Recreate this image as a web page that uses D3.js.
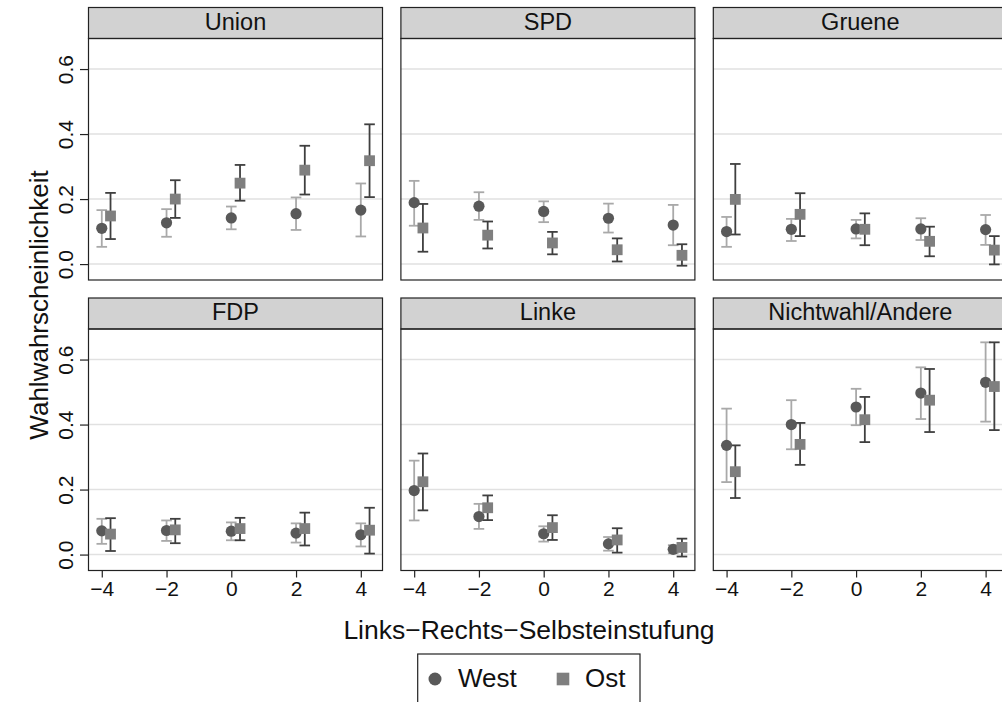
<!DOCTYPE html>
<html>
<head>
<meta charset="utf-8">
<script src="https://cdn.jsdelivr.net/npm/d3@7"></script>
<style>
  body { margin: 0; background: #fff; }
  svg { display: block; font-family: "Liberation Sans", Arial, sans-serif; }
</style>
</head>
<body>
<svg id="vis"></svg>
<script>
// facet labels and x values (left-right self placement)
var parties = ["Union", "SPD", "Gruene", "FDP", "Linke", "Nichtwahl/Andere"];
var lrScale = [-4, -2, 0, 2, 4];
var yTicks = [0, 0.2, 0.4, 0.6];
var groups = ["West", "Ost"];

// one row per party, one value per lrScale point
var westMean = [
  [0.110, 0.127, 0.142, 0.155, 0.166],
  [0.189, 0.178, 0.162, 0.141, 0.120],
  [0.100, 0.107, 0.108, 0.108, 0.106],
  [0.073, 0.074, 0.072, 0.066, 0.061],
  [0.197, 0.117, 0.064, 0.033, 0.016],
  [0.336, 0.400, 0.454, 0.497, 0.530]
];
var westLo = [
  [0.053, 0.084, 0.107, 0.105, 0.085],
  [0.118, 0.136, 0.129, 0.097, 0.058],
  [0.053, 0.071, 0.079, 0.074, 0.059],
  [0.033, 0.042, 0.044, 0.037, 0.025],
  [0.105, 0.079, 0.040, 0.012, 0.004],
  [0.223, 0.324, 0.398, 0.417, 0.409]
];
var westHi = [
  [0.166, 0.169, 0.177, 0.205, 0.248],
  [0.256, 0.221, 0.193, 0.186, 0.182],
  [0.145, 0.139, 0.136, 0.141, 0.151],
  [0.110, 0.105, 0.099, 0.096, 0.096],
  [0.289, 0.156, 0.087, 0.054, 0.029],
  [0.449, 0.475, 0.510, 0.576, 0.653]
];
var ostMean = [
  [0.148, 0.200, 0.249, 0.289, 0.318],
  [0.111, 0.089, 0.065, 0.044, 0.027],
  [0.199, 0.153, 0.107, 0.070, 0.043],
  [0.063, 0.076, 0.080, 0.080, 0.075],
  [0.224, 0.144, 0.083, 0.045, 0.022],
  [0.255, 0.339, 0.415, 0.475, 0.517]
];
var ostLo = [
  [0.077, 0.142, 0.195, 0.214, 0.206],
  [0.038, 0.048, 0.030, 0.008, -0.005],
  [0.091, 0.086, 0.058, 0.024, -0.001],
  [0.011, 0.035, 0.044, 0.028, 0.003],
  [0.136, 0.106, 0.045, 0.006, -0.006],
  [0.174, 0.276, 0.346, 0.377, 0.383]
];
var ostHi = [
  [0.219, 0.258, 0.305, 0.364, 0.430],
  [0.185, 0.131, 0.099, 0.079, 0.061],
  [0.308, 0.218, 0.156, 0.115, 0.086],
  [0.112, 0.110, 0.113, 0.129, 0.144],
  [0.311, 0.182, 0.121, 0.081, 0.049],
  [0.336, 0.405, 0.485, 0.571, 0.653]
];

var W = 1002, H = 702;
var panelW = 294, stripH = 31, bodyH = 241.5;
var left0 = 88.5, colStep = 312.4, top0 = 7.5, rowStep = 290.5;
var dodge = 0.27;

var svg = d3.select("#vis").attr("width", W).attr("height", H);

var x = d3.scaleLinear().domain([-4.41, 4.67]).range([0, panelW]);
var y = d3.scaleLinear().domain([-0.049, 0.694]).range([bodyH, 0]);

var style = {
  West: { bar: "#a9a9a9", fill: "#595959" },
  Ost:  { bar: "#3f3f3f", fill: "#7f7f7f" }
};

function rows(i, g) {
  var m = g == "West" ? westMean : ostMean,
      lo = g == "West" ? westLo : ostLo,
      hi = g == "West" ? westHi : ostHi;
  return lrScale.map(function(v, j) {
    return { lr: v + (g == "Ost" ? dodge : 0), mean: m[i][j], lo: lo[i][j], hi: hi[i][j] };
  });
}

parties.forEach(function(p, i) {
  var col = i % 3, row = Math.floor(i / 3);
  var g = svg.append("g")
      .attr("transform", "translate(" + (left0 + col * colStep) + "," + (top0 + row * rowStep) + ")");

  // strip
  g.append("rect")
      .attr("width", panelW).attr("height", stripH)
      .style("fill", "#d2d2d2").style("stroke", "#222").style("stroke-width", 1.2);
  g.append("text")
      .attr("x", panelW / 2).attr("y", 22)
      .style("text-anchor", "middle").style("font-size", "23.5px").style("fill", "#111")
      .text(p);

  var body = g.append("g").attr("transform", "translate(0," + stripH + ")");

  body.append("g").selectAll("line")
      .data(yTicks)
    .enter().append("line")
      .attr("x1", 0).attr("x2", panelW)
      .attr("y1", function(d) { return y(d); })
      .attr("y2", function(d) { return y(d); })
      .style("stroke", "#e1e1e1").style("stroke-width", 1.6);

  groups.forEach(function(grp) {
    var eb = body.append("g").selectAll(".eb")
        .data(rows(i, grp))
      .enter().append("g")
        .style("stroke", style[grp].bar).style("stroke-width", 1.8);
    eb.append("line")
        .attr("x1", function(d) { return x(d.lr); }).attr("x2", function(d) { return x(d.lr); })
        .attr("y1", function(d) { return y(d.lo); }).attr("y2", function(d) { return y(d.hi); });
    eb.append("line")
        .attr("x1", function(d) { return x(d.lr) - 5.3; }).attr("x2", function(d) { return x(d.lr) + 5.3; })
        .attr("y1", function(d) { return y(d.lo); }).attr("y2", function(d) { return y(d.lo); });
    eb.append("line")
        .attr("x1", function(d) { return x(d.lr) - 5.3; }).attr("x2", function(d) { return x(d.lr) + 5.3; })
        .attr("y1", function(d) { return y(d.hi); }).attr("y2", function(d) { return y(d.hi); });
  });

  body.append("g").selectAll("circle")
      .data(rows(i, "West"))
    .enter().append("circle")
      .attr("cx", function(d) { return x(d.lr); })
      .attr("cy", function(d) { return y(d.mean); })
      .attr("r", 5.6)
      .style("fill", style.West.fill);

  body.append("g").selectAll("rect")
      .data(rows(i, "Ost"))
    .enter().append("rect")
      .attr("x", function(d) { return x(d.lr) - 5.4; })
      .attr("y", function(d) { return y(d.mean) - 5.4; })
      .attr("width", 10.8).attr("height", 10.8)
      .style("fill", style.Ost.fill);

  body.append("rect")
      .attr("width", panelW).attr("height", bodyH)
      .style("fill", "none").style("stroke", "#222").style("stroke-width", 1.2);

  if (col == 0) {
    var ya = body.append("g")
        .call(d3.axisLeft(y).tickValues(yTicks).tickSize(8.5).tickFormat(d3.format(".1f")));
    ya.select(".domain").remove();
    ya.selectAll("line").style("stroke", "#222").style("stroke-width", 1.2);
    ya.selectAll("text")
        .attr("transform", "rotate(-90)")
        .attr("x", 0).attr("y", -16).attr("dy", 0)
        .style("text-anchor", "middle").style("font-size", "21px").style("fill", "#111")
        .style("font-family", "Liberation Sans, Arial, sans-serif");
  }
  if (row == 1) {
    var xa = body.append("g")
        .attr("transform", "translate(0," + bodyH + ")")
        .call(d3.axisBottom(x).tickValues(lrScale).tickSize(7).tickPadding(4));
    xa.select(".domain").remove();
    xa.selectAll("line").style("stroke", "#222").style("stroke-width", 1.2);
    xa.selectAll("text")
        .style("font-size", "21px").style("fill", "#111")
        .style("font-family", "Liberation Sans, Arial, sans-serif");
  }
});

// axis titles
svg.append("text")
    .attr("x", 529).attr("y", 639)
    .style("text-anchor", "middle").style("font-size", "26.5px").style("fill", "#111")
    .text("Links\u2212Rechts\u2212Selbsteinstufung");

svg.append("text")
    .attr("transform", "translate(48,305) rotate(-90)")
    .style("text-anchor", "middle").style("font-size", "26px").style("fill", "#111")
    .text("Wahlwahrscheinlichkeit");

// legend
var legend = svg.append("g").attr("transform", "translate(417.7,654)");
legend.append("rect")
    .attr("width", 222.3).attr("height", 60)
    .style("fill", "#fff").style("stroke", "#222").style("stroke-width", 1.2);
legend.append("circle")
    .attr("cx", 17.3).attr("cy", 25).attr("r", 6.5)
    .style("fill", style.West.fill);
legend.append("text")
    .attr("x", 40.3).attr("y", 33).style("font-size", "26px").style("fill", "#111")
    .text(groups[0]);
legend.append("rect")
    .attr("x", 139).attr("y", 18.7).attr("width", 12.6).attr("height", 12.6)
    .style("fill", style.Ost.fill);
legend.append("text")
    .attr("x", 167.3).attr("y", 33).style("font-size", "26px").style("fill", "#111")
    .text(groups[1]);
</script>
</body>
</html>
